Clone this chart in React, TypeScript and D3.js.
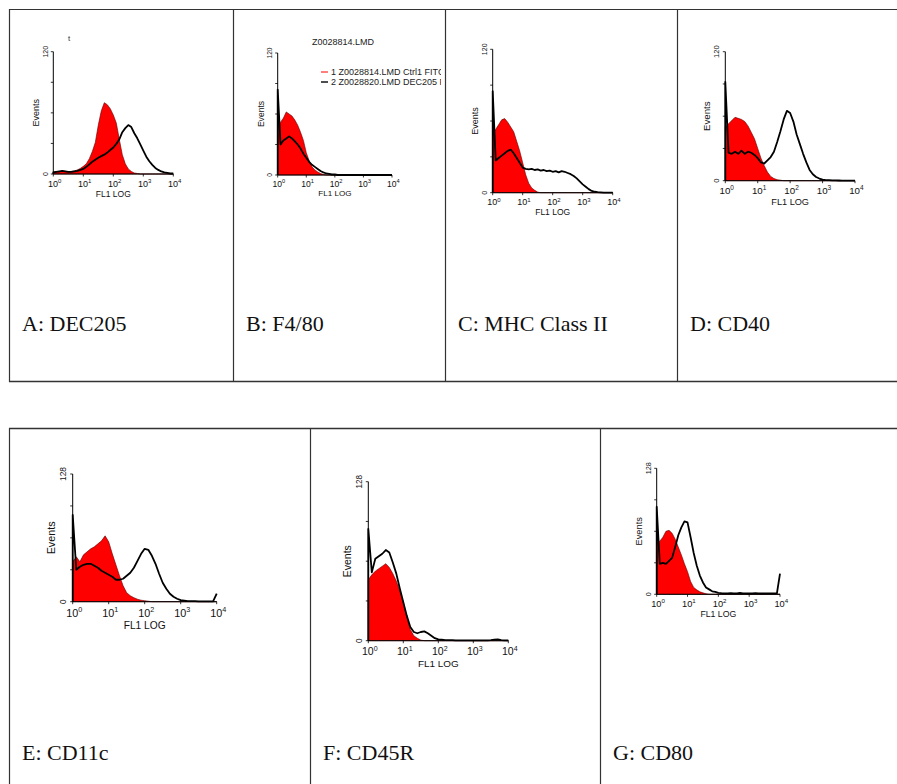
import React from 'react';
import * as d3 from 'd3';

// FL1 channel bins in decades (10^0 .. 10^4), one every 0.1 decade
const decades = d3.range(41).map(i => i / 10);
const fl1 = decades.map(d => Math.pow(10, d));

const panelLabels = ['A: DEC205', 'B: F4/80', 'C: MHC Class II', 'D: CD40', 'E: CD11c', 'F: CD45R', 'G: CD80'];
const yMaxLabels = [120, 120, 120, 120, 128, 128, 128];
const xTickExponents = [0, 1, 2, 3, 4];

// red filled = isotype control, black line = stained sample
const dec205Ctrl = [2, 2.5, 2, 3, 2.5, 2, 2.5, 3, 4, 5.5, 7.5, 10, 15, 22, 31, 48, 62, 70, 68, 64, 58, 50, 34, 19, 10, 5, 2.5, 1, 0.5, 0, 0, 0, 0, 0, 0, 0, 0, 0, 0, 0, 0];
const dec205Stain = [1.5, 2, 2.5, 3, 2.5, 2, 2, 2.5, 3, 4, 5, 7, 9.5, 12, 14, 16, 17.5, 19, 21, 23.5, 26, 29.5, 34, 41, 45, 48, 46, 40, 35, 29, 23, 17, 12.5, 9, 6, 4, 2.5, 1.5, 1, 0.5, 0.5];

const f480Ctrl = [48, 52, 56, 62, 60, 58, 54, 49, 42, 34, 22, 14, 8, 5, 3, 1.5, 0.5, 0, 0, 0, 0, 0, 0, 0, 0, 0, 0, 0, 0, 0, 0, 0, 0, 0, 0, 0, 0, 0, 0, 0, 0];
const f480Stain = [84, 30, 34, 36, 38, 36, 33, 30, 26, 21, 17, 13, 10, 8, 6, 4, 2.5, 1.5, 1, 0.5, 0.5, 0, 0, 0, 0, 0, 0, 0, 0, 0, 0, 0, 0, 0, 0, 0, 0, 0, 0, 0, 0];

const mhcCtrl = [49, 53, 57, 61, 62, 59, 55, 51, 43, 35, 25, 15, 8, 4, 2, 0.5, 0, 0, 0, 0, 0, 0, 0, 0, 0, 0, 0, 0, 0, 0, 0, 0, 0, 0, 0, 0, 0, 0, 0, 0, 0];
const mhcStain = [85, 27, 29, 31, 33, 35, 36, 33, 29, 25, 21, 20, 19.5, 20, 19, 19.5, 18.5, 19, 18, 18.5, 17.5, 18, 17, 18, 17.5, 16.5, 15.5, 14, 12, 9.5, 7, 5, 3, 1.5, 0.8, 0.5, 0.3, 0, 0, 0, 0];

const cd40Ctrl = [50, 53, 56, 59, 58, 57, 55, 51, 45, 39, 30, 21, 14, 8, 4, 2, 1, 0.5, 0, 0, 0, 0, 0, 0, 0, 0, 0, 0, 0, 0, 0, 0, 0, 0, 0, 0, 0, 0, 0, 0, 0];
const cd40Stain = [92, 26, 25, 27, 25, 28, 25, 27, 26, 24, 21, 17, 16, 19, 22, 27, 36, 46, 57, 65, 63, 55, 43, 34, 25, 17, 10, 6, 3.5, 2, 1, 0.5, 0.5, 0.3, 0.3, 0.2, 0, 0, 0, 0, 0];

const cd11cCtrl = [40, 45, 40, 47, 50, 53, 55, 58, 61, 66, 60, 48, 37, 26, 16, 9, 6, 4, 2.5, 1.5, 1, 0.5, 0, 0, 0, 0, 0, 0, 0, 0, 0, 0, 0, 0, 0, 0, 0, 0, 0, 0, 0];
const cd11cStain = [87, 32, 35, 37, 38, 38, 36, 34, 31, 29, 27, 25, 22, 22, 23, 26, 29, 34, 41, 48, 53, 52, 46, 38, 28, 19, 13, 8, 5, 3, 1.5, 1, 0.5, 0.5, 0.5, 0.3, 0.3, 0.3, 0.3, 0.3, 8];

const cd45rCtrl = [49, 53, 56, 58, 60, 62, 59, 54, 48, 40, 31, 19, 9, 4, 2, 0.5, 0, 0, 0, 0, 0, 0, 0, 0, 0, 0, 0, 0, 0, 0, 0, 0, 0, 0, 0, 0, 0, 0, 0, 0, 0];
const cd45rStain = [90, 55, 66, 68, 70, 73, 71, 63, 54, 42, 31, 20, 11, 7, 6, 7, 7.5, 6, 4, 2, 1, 0.8, 0.5, 0.5, 0.5, 0.3, 0.3, 0.3, 0.3, 0.3, 0.3, 0.3, 0.3, 0.3, 0.3, 0.5, 0.8, 1, 0.5, 0.3, 0.3];

const cd80Ctrl = [52, 54, 58, 64, 65, 62, 56, 48, 40, 31, 23, 13, 7, 4.5, 2.5, 1.5, 0.5, 0, 0, 0, 0, 0, 0, 0, 0, 0, 0, 0, 0, 0, 0, 0, 0, 0, 0, 0, 0, 0, 0, 0, 0];
const cd80Stain = [89, 31, 32, 31, 34, 37, 48, 60, 68, 74, 73, 58, 42, 29, 19, 12, 7, 5, 3, 2.5, 1.5, 1.2, 1, 1, 1.2, 1, 1, 1.3, 1, 1, 0.8, 1, 1.2, 1, 0.8, 1, 1, 1, 1, 1, 21];

const controls = [dec205Ctrl, f480Ctrl, mhcCtrl, cd40Ctrl, cd11cCtrl, cd45rCtrl, cd80Ctrl];
const stains = [dec205Stain, f480Stain, mhcStain, cd40Stain, cd11cStain, cd45rStain, cd80Stain];

const legendTitle = 'Z0028814.LMD';
const legendEntries = ['1 Z0028814.LMD Ctrl1 FITC', '2 Z0028820.LMD DEC205 FITC'];

// plot boxes and table cells (page pixels)
const boxes = [
  { x0: 53.3, x1: 173.3, top: 51.7, bottom: 174, cell: 9, row: 0 },
  { x0: 277.7, x1: 392, top: 53, bottom: 175, cell: 233, row: 0 },
  { x0: 492.7, x1: 612.7, top: 49.3, bottom: 192.7, cell: 445, row: 0 },
  { x0: 725.3, x1: 855, top: 51.7, bottom: 180.7, cell: 677, row: 0 },
  { x0: 72.7, x1: 216.7, top: 474, bottom: 601.7, cell: 9, row: 1 },
  { x0: 368.3, x1: 508.3, top: 481.7, bottom: 640.7, cell: 310, row: 1 },
  { x0: 656.7, x1: 780, top: 468.3, bottom: 594.3, cell: 600, row: 1 },
];

const sans = '"Liberation Sans", Arial, sans-serif';
const serif = '"Liberation Serif", "Times New Roman", serif';

function Histogram({ i }: { i: number }) {
  const b = boxes[i];
  const yMax = yMaxLabels[i];
  const k = (b.x1 - b.x0) / 120;
  const x = d3.scaleLog().domain([1, 10000]).range([b.x0, b.x1]);
  const y = d3.scaleLinear().domain([0, yMax]).range([b.bottom, b.top]);

  const area = d3.area<number>().x((_, j) => x(fl1[j])).y0(b.bottom).y1(d => y(d));
  const line = d3.line<number>().x((_, j) => x(fl1[j])).y(d => y(d));
  const stainPath = `M${b.x0},${b.bottom}` + (line(stains[i]) || '').replace(/^M/, 'L');
  const yTicks = d3.range(0, yMax + 1, yMax / 4);
  const midY = (b.top + b.bottom) / 2;

  return (
    <g>
      <path d={area(controls[i]) || ''} fill="#ff0000" stroke="#5a0000" strokeWidth={0.6} />
      <path d={stainPath} fill="none" stroke="#000" strokeWidth={1.8} strokeLinejoin="round" />
      <line x1={b.x0} x2={b.x0} y1={b.top} y2={b.bottom} stroke="#000" strokeWidth={1} />
      <line x1={b.x0} x2={b.x1} y1={b.bottom} y2={b.bottom} stroke="#000" strokeWidth={1} />
      {yTicks.map(t => (
        <line key={t} x1={b.x0 - 2.5} x2={b.x0} y1={y(t)} y2={y(t)} stroke="#000" strokeWidth={0.8} />
      ))}
      {xTickExponents.map(e => (
        <g key={e}>
          <line x1={x(Math.pow(10, e))} x2={x(Math.pow(10, e))} y1={b.bottom} y2={b.bottom + 2.5} stroke="#000" strokeWidth={0.8} />
          <text x={x(Math.pow(10, e)) + 1.3 * k} y={b.bottom + 12.5 * k} textAnchor="middle" fontSize={9 * k} fontFamily={sans} fill="#111">
            10<tspan dy={-3.6 * k} fontSize={6 * k}>{e}</tspan>
          </text>
        </g>
      ))}
      <text x={(b.x0 + b.x1) / 2} y={b.bottom + 22.5 * k} textAnchor="middle" fontSize={8.5 * k} fontFamily={sans} fill="#111">FL1 LOG</text>
      <text transform={`translate(${b.x0 - 14.5 * k},${midY}) rotate(-90)`} textAnchor="middle" fontSize={9 * k} fontFamily={sans} fill="#111">Events</text>
      <text transform={`translate(${b.x0 - 5.5 * k},${b.top}) rotate(-90)`} textAnchor="middle" fontSize={7 * k} fontFamily={sans} fill="#111">{yMax}</text>
      <text transform={`translate(${b.x0 - 5.5 * k},${b.bottom}) rotate(-90)`} textAnchor="middle" fontSize={7 * k} fontFamily={sans} fill="#111">0</text>
    </g>
  );
}

export default function App() {
  const W = 897;
  const H = 784;
  const row1Cells = [9, 233, 445, 677];
  const row2Cells = [9, 310, 600];
  const border = '#333';
  return (
    <svg width={W} height={H} style={{ position: 'absolute', left: 0, top: 0, background: '#fff' }}>
      <defs>
        <clipPath id="legendClip">
          <rect x={235} y={20} width={206} height={80} />
        </clipPath>
      </defs>
      {/* table grid */}
      <line x1={9} x2={W} y1={9.5} y2={9.5} stroke={border} strokeWidth={1.2} />
      <line x1={9} x2={W} y1={381.5} y2={381.5} stroke={border} strokeWidth={1.4} />
      {row1Cells.map(c => (
        <line key={'r1' + c} x1={c + 0.5} x2={c + 0.5} y1={9} y2={382} stroke={border} strokeWidth={1.2} />
      ))}
      <line x1={9} x2={W} y1={428.5} y2={428.5} stroke={border} strokeWidth={1.4} />
      {row2Cells.map(c => (
        <line key={'r2' + c} x1={c + 0.5} x2={c + 0.5} y1={428} y2={H} stroke={border} strokeWidth={1.2} />
      ))}

      {boxes.map((b, i) => (
        <text key={'lab' + i} x={b.cell + 13} y={b.row === 0 ? 331 : 760} fontSize={22} fontFamily={serif} fill="#111">
          {panelLabels[i]}
        </text>
      ))}

      {boxes.map((_, i) => <Histogram key={i} i={i} />)}

      {/* cropped title remnant in panel A */}
      <text x={68} y={41} fontSize={8} fontFamily={sans} fill="#333">t</text>

      {/* legend of panel B */}
      <g clipPath="url(#legendClip)" fontFamily={sans} fontSize={9} fill="#222">
        <text x={343} y={45} textAnchor="middle">{legendTitle}</text>
        <line x1={321} x2={328} y1={72} y2={72} stroke="#ff6060" strokeWidth={1.6} />
        <text x={331} y={75}>{legendEntries[0]}</text>
        <line x1={321} x2={328} y1={82} y2={82} stroke="#222" strokeWidth={1.6} />
        <text x={331} y={85}>{legendEntries[1]}</text>
      </g>
    </svg>
  );
}
